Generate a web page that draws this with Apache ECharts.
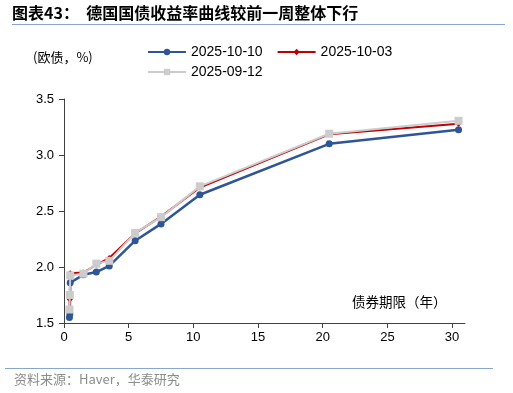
<!DOCTYPE html>
<html><head><meta charset="utf-8">
<script src="https://cdn.jsdelivr.net/npm/echarts@6/dist/echarts.min.js"></script>
<style>html,body{margin:0;padding:0;background:#fff}#c{width:513px;height:393px}</style>
</head><body><div id="c"></div>
<script>
const seriesNames = ['2025-10-10', '2025-10-03', '2025-09-12'];
const maturities = [0.42, 0.45, 0.48, 1.5, 2.5, 3.5, 5.5, 7.5, 10.5, 20.5, 30.5];
const y20251010 = [1.55, 1.58, 1.86, 1.93, 1.955, 2.01, 2.235, 2.385, 2.645, 3.10, 3.225];
const y20251003 = [1.60, 1.71, 1.945, 1.95, 2.02, 2.08, 2.30, 2.45, 2.71, 3.185, 3.28];
const y20250912 = [1.62, 1.75, 1.925, 1.94, 2.03, 2.055, 2.305, 2.445, 2.72, 3.19, 3.305];
const xTicks = [0, 5, 10, 15, 20, 25, 30];
const yTicks = [1.5, 2.0, 2.5, 3.0, 3.5];

const cjk = '"Noto Sans CJK SC", sans-serif';
const num = '"Liberation Sans", Arial, sans-serif';
const pairs = (ys) => maturities.map((x, i) => [x, ys[i]]);

const chart = echarts.init(document.getElementById('c'), null, {renderer: 'canvas'});
chart.setOption({
  animation: false,
  backgroundColor: '#fff',
  grid: {left: 64, right: 48, top: 99, bottom: 70, containLabel: false},
  legend: [
    {data: [seriesNames[0], seriesNames[1]], left: 142, top: 40, itemWidth: 38, itemHeight: 8, itemGap: 14,
     textStyle: {fontFamily: num, fontSize: 14, color: '#000'}},
    {data: [seriesNames[2]], left: 142, top: 60, itemWidth: 38, itemHeight: 8,
     textStyle: {fontFamily: num, fontSize: 14, color: '#000'}}
  ],
  xAxis: {
    type: 'value', min: 0, max: 31,
    axisLine: {show: true, onZero: false, lineStyle: {color: '#404040', width: 1}},
    axisTick: {show: true, length: 5, customValues: xTicks, lineStyle: {color: '#404040'}},
    axisLabel: {customValues: xTicks, fontFamily: num, fontSize: 13, color: '#000', margin: 8},
    splitLine: {show: false}
  },
  yAxis: {
    type: 'value', min: 1.5, max: 3.5, interval: 0.5,
    axisLine: {show: true, lineStyle: {color: '#404040', width: 1}},
    axisTick: {show: true, length: 5, lineStyle: {color: '#404040'}},
    axisLabel: {fontFamily: num, fontSize: 13, color: '#000', margin: 10, formatter: v => v.toFixed(1)},
    splitLine: {show: false}
  },
  series: [
    {name: seriesNames[0], type: 'line', data: pairs(y20251010), symbol: 'circle', symbolSize: 7,
     itemStyle: {color: '#2E5597'}, lineStyle: {color: '#2E5597', width: 2.5}, z: 2, clip: false},
    {name: seriesNames[1], type: 'line', data: pairs(y20251003), symbol: 'diamond', symbolSize: 6,
     itemStyle: {color: '#C00000'}, lineStyle: {color: '#C00000', width: 2}, z: 3, clip: false},
    {name: seriesNames[2], type: 'line', data: pairs(y20250912), symbol: 'rect', symbolSize: 8,
     itemStyle: {color: '#CCCCCC'}, lineStyle: {color: '#CCCCCC', width: 2}, z: 4, clip: false}
  ],
  graphic: [
    {type: 'text', left: 12, top: 5, style: {text: '图表43：  德国国债收益率曲线较前一周整体下行', font: 'bold 16px ' + cjk, fill: '#000'}},
    {type: 'line', shape: {x1: 12, y1: 24.5, x2: 505, y2: 24.5}, style: {stroke: '#8AA6CF', lineWidth: 1}},
    {type: 'text', left: 33, top: 51, style: {text: '(欧债，%)', font: '13px ' + cjk, fill: '#000'}},
    {type: 'text', left: 352, top: 295, style: {text: '债券期限（年）', font: '13.5px ' + cjk, fill: '#000'}},
    {type: 'line', shape: {x1: 5, y1: 368.5, x2: 493, y2: 368.5}, style: {stroke: '#8AA6CF', lineWidth: 1}},
    {type: 'text', left: 14, top: 373, style: {text: '资料来源：Haver，华泰研究', font: '13px ' + cjk, fill: '#8C8C8C'}}
  ]
});
</script></body></html>
